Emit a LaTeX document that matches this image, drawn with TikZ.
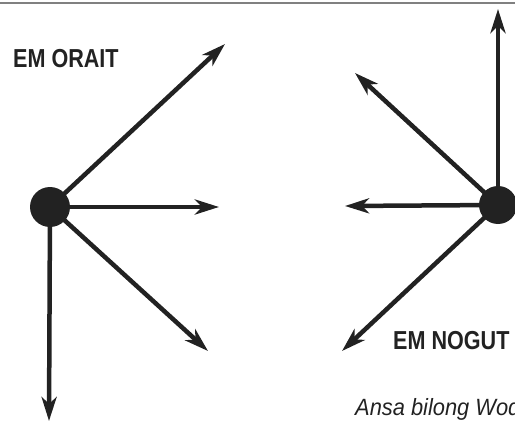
\documentclass[tikz,border=0pt]{standalone}
\usepackage{fontspec}
\setmainfont{Liberation Sans}
\usetikzlibrary{arrows.meta}
\definecolor{ink}{HTML}{222222}

\begin{document}
\begin{tikzpicture}[x=1pt,y=-1pt,
                dot/.style = {circle, fill=ink, inner sep=0pt, minimum size=40pt},
                ray/.style = {draw=ink, line width=4.5pt,
                              -{Stealth[length=24pt,width=15pt,inset=7pt]}},
                lbl/.style = {inner sep=0pt, text=ink, xscale=.83,
                              font=\fontsize{26}{26}\selectfont\bfseries}
                ]
                \useasboundingbox (0,0) rectangle (515,423);
                \draw[gray, line width=2pt] (0,3) -- (515,3);
                % left: em orait
                \coordinate (l1) at (225,44);
                \coordinate (l2) at (219,207);
                \coordinate (l3) at (208,351);
                \coordinate (l4) at (49,421);
                \foreach \t in {l1,l2,l3,l4}
                    \draw[ray] (50,207) -- (\t);
                \node[dot] (okdot) at (50,207) {};
                % right: em nogut
                \coordinate (r1) at (498,9);
                \coordinate (r2) at (355,73);
                \coordinate (r3) at (345,206);
                \coordinate (r4) at (342,351);
                \foreach \t in {r1,r2,r3,r4}
                    \draw[ray] (498,205) -- (\t);
                \node[dot, minimum size=38pt] (nodot) at (498,205) {};
                % labels
                \node[lbl, anchor=base west] (orait) at (13,67) {EM ORAIT};
                \node[lbl, anchor=base west] (nogut) at (393,349) {EM NOGUT};
                \node[inner sep=0pt, anchor=base west, text=ink, xscale=.93,
                      font=\fontsize{23.5}{23.5}\selectfont\itshape] (ansa) at (355,415) {Ansa bilong Wod};
            \end{tikzpicture}
\end{document}
